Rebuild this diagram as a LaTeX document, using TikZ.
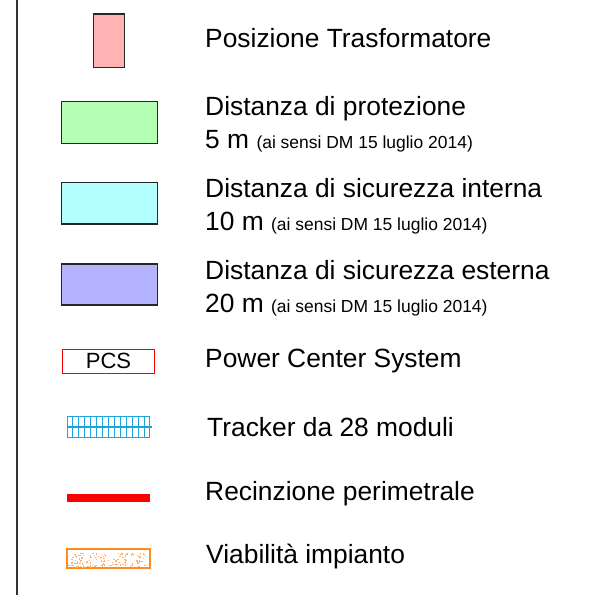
\documentclass[tikz,border=0pt]{standalone}
\usepackage{fontspec}
\setmainfont{Liberation Sans}
\usetikzlibrary{calc}
\definecolor{trafo}{HTML}{FFB3B3}
\definecolor{prot}{HTML}{B3FFB3}
\definecolor{sicint}{HTML}{B3FFFF}
\definecolor{sicest}{HTML}{B3B3FF}
\definecolor{trk}{HTML}{1EA3DA}
\definecolor{viab}{HTML}{FF8A1E}
\definecolor{fence}{HTML}{FF0000}
\newcommand{\legsmallfont}{\fontsize{14.9}{17}\selectfont}

\begin{document}
\begin{tikzpicture}[x=0.3mm,y=-0.3mm,
  swatch/.style={draw=black!85,line width=0.35mm,fill=#1,inner sep=0pt},
  legtext/.style={anchor=base west,inner sep=0pt,font=\fontsize{22.5}{26}\selectfont},
]
  \useasboundingbox (0,0) rectangle (589,595);
  \draw[black!80,line width=0.6mm] (17,0) -- (17,595);

  % swatches
  \node[swatch=trafo,minimum width=9.3mm,minimum height=16.1mm] (trafo) at (108.8,40.9) {};
  \node[swatch=prot,minimum width=28.8mm,minimum height=12.4mm] (prot) at (109.7,122.5) {};
  \node[swatch=sicint,minimum width=28.8mm,minimum height=12.4mm] (sicint) at (109.7,203.4) {};
  \node[swatch=sicest,minimum width=28.8mm,minimum height=12.3mm] (sicest) at (109.7,284.5) {};
  \node[draw=fence,line width=0.3mm,minimum width=27.5mm,minimum height=7.3mm,inner sep=0pt,
    font=\fontsize{18.8}{20}\selectfont] (pcs) at (108.5,361.2) {PCS};
  \node[draw=trk,line width=0.4mm,minimum width=24.6mm,minimum height=6.2mm,inner sep=0pt] (tracker) at (108.5,427) {};
  \foreach \c in {1,...,13}
    \draw[trk,line width=0.35mm] ($(tracker.south west)!\c/14!(tracker.south east)$) -- ($(tracker.north west)!\c/14!(tracker.north east)$);
  \draw[trk,line width=0.4mm] (tracker.west) -- ($(tracker.east)+(1.5,0)$);
  \draw[fence,line width=2.3mm] (67.3,497.8) -- (150,497.8);
  \node[draw=viab,line width=0.6mm,minimum width=24.8mm,minimum height=5.5mm,inner sep=0pt] (viab) at (108.7,558.5) {};
  \pgfmathsetseed{7}
  \foreach \i in {1,...,130}
    \fill[viab!65] ($(viab.south west)+(2+rnd*78,-2-rnd*14)$) rectangle +(1.3,1.3);

  % labels
  \node[legtext] (ltrafo) at (205,48) {Posizione Trasformatore};
  \node[legtext] (lprot) at (205,115) {Distanza di protezione};
  \node[legtext] (lprot2) at (205,148) {5 m {\legsmallfont(ai sensi DM 15 luglio 2014)}};
  \node[legtext] (lsicint) at (205,197) {Distanza di sicurezza interna};
  \node[legtext] (lsicint2) at (205,230) {10 m {\legsmallfont(ai sensi DM 15 luglio 2014)}};
  \node[legtext] (lsicest) at (205,279) {Distanza di sicurezza esterna};
  \node[legtext] (lsicest2) at (205,312) {20 m {\legsmallfont(ai sensi DM 15 luglio 2014)}};
  \node[legtext] (lpcs) at (205,367) {Power Center System};
  \node[legtext] (ltracker) at (207,436) {Tracker da 28 moduli};
  \node[legtext] (lfence) at (205,500) {Recinzione perimetrale};
  \node[legtext] (lviab) at (206,563) {Viabilità impianto};
\end{tikzpicture}
\end{document}
